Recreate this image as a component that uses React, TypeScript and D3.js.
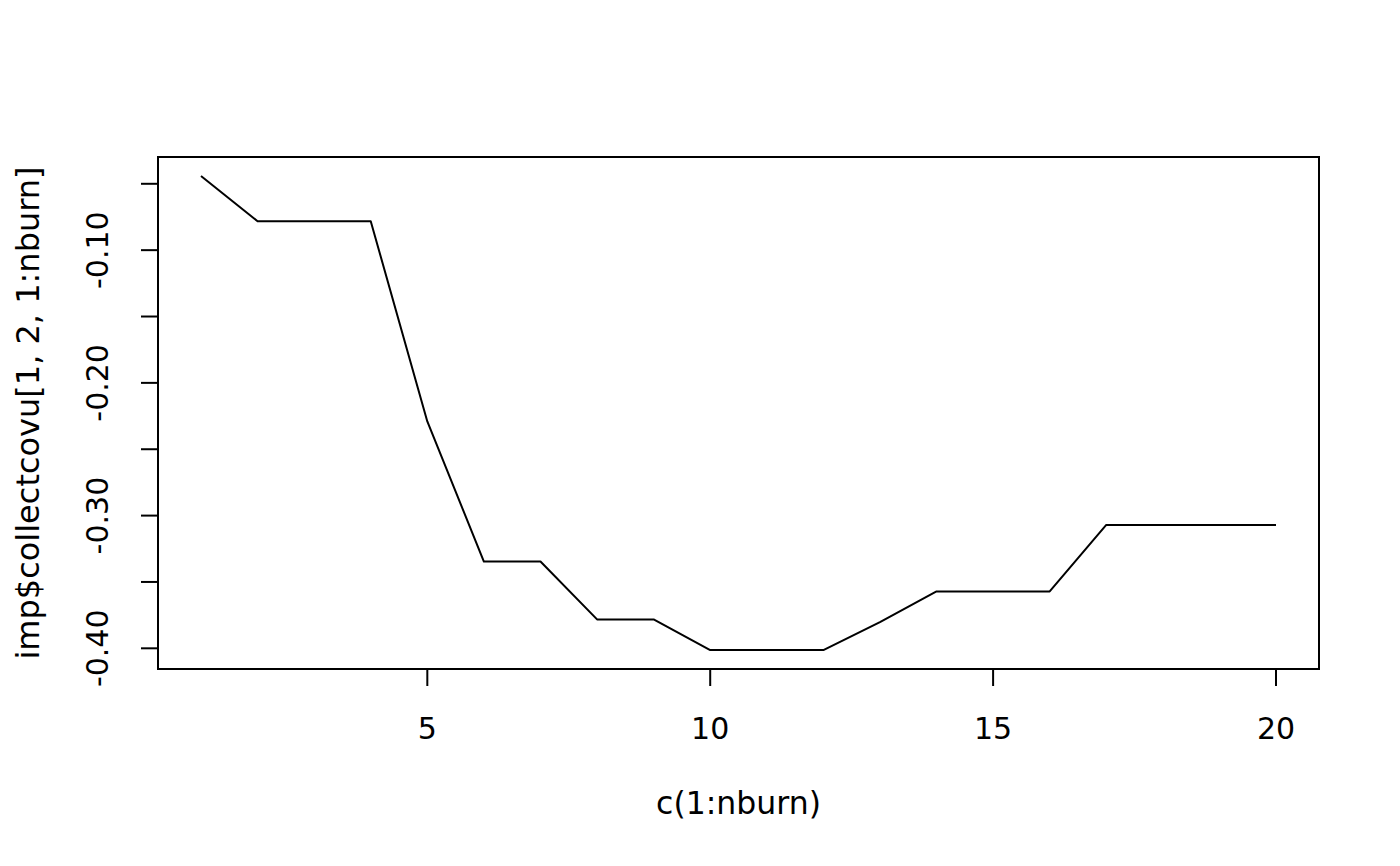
import * as d3 from 'd3';

// values
const iterations = [1, 2, 3, 4, 5, 6, 7, 8, 9, 10, 11, 12, 13, 14, 15, 16, 17, 18, 19, 20];
const covValues = [
  -0.0441, -0.0782, -0.0782, -0.0782, -0.2291, -0.3346, -0.3346, -0.3782, -0.3782, -0.4013,
  -0.4013, -0.4013, -0.3802, -0.3571, -0.3571, -0.3571, -0.307, -0.307, -0.307, -0.307,
];
const xTicks = [5, 10, 15, 20];
const yTicks = [-0.05, -0.1, -0.15, -0.2, -0.25, -0.3, -0.35, -0.4];
const yLabelled = [-0.1, -0.2, -0.3, -0.4];

const width = 1400;
const height = 866;
const font = 'DejaVu Sans, sans-serif';
const fontSize = 30;

// R prints a plain hyphen, not the unicode minus d3 uses
const fmt = (v: number) => d3.format('.2f')(v).replace('\u2212', '-');

export default function App() {
  const margin = { top: 157, right: 81, bottom: 197, left: 158 };
  const innerW = width - margin.left - margin.right;
  const innerH = height - margin.top - margin.bottom;

  // R-style 4% padding on both axes
  const xExt = d3.extent(iterations) as [number, number];
  const xPad = (xExt[1] - xExt[0]) * 0.04;
  const xScale = d3.scaleLinear().domain([xExt[0] - xPad, xExt[1] + xPad]).range([0, innerW]);

  const yExt = d3.extent(covValues) as [number, number];
  const yPad = (yExt[1] - yExt[0]) * 0.04;
  const yScale = d3.scaleLinear().domain([yExt[0] - yPad, yExt[1] + yPad]).range([innerH, 0]);

  const line = d3.line<number>()
    .x((_, i) => xScale(iterations[i]))
    .y(d => yScale(d));

  const tickLen = 17;

  return (
    <svg
      width={width}
      height={height}
      style={{ position: 'absolute', left: 0, top: 0, background: '#fff' }}
      fontFamily={font}
    >
      <g transform={`translate(${margin.left},${margin.top})`}>
        <rect x={0} y={0} width={innerW} height={innerH} fill="none" stroke="#000" strokeWidth={2} />
        <path d={line(covValues) ?? ''} fill="none" stroke="#000" strokeWidth={2} strokeLinejoin="round" />

        {/* x axis */}
        <line x1={xScale(xTicks[0])} x2={xScale(xTicks[xTicks.length - 1])} y1={innerH} y2={innerH} stroke="#000" strokeWidth={2} />
        {xTicks.map(t => (
          <g key={t} transform={`translate(${xScale(t)},${innerH})`}>
            <line y1={0} y2={tickLen} stroke="#000" strokeWidth={2} />
            <text y={70} textAnchor="middle" fontSize={fontSize} fill="#000">{t}</text>
          </g>
        ))}

        {/* y axis */}
        <line x1={0} x2={0} y1={yScale(yTicks[0])} y2={yScale(yTicks[yTicks.length - 1])} stroke="#000" strokeWidth={2} />
        {yTicks.map(t => (
          <g key={t} transform={`translate(0,${yScale(t)})`}>
            <line x1={0} x2={-tickLen} stroke="#000" strokeWidth={2} />
            {yLabelled.some(v => Math.abs(v - t) < 1e-9) && (
              <text transform={`translate(-50,0) rotate(-90)`} textAnchor="middle" fontSize={fontSize} fill="#000">
                {fmt(t)}
              </text>
            )}
          </g>
        ))}
      </g>

      <text x={margin.left + innerW / 2} y={814} textAnchor="middle" fontSize={31.5} fill="#000">
        c(1:nburn)
      </text>
      <text
        transform={`translate(39,${margin.top + innerH / 2}) rotate(-90)`}
        textAnchor="middle"
        fontSize={32}
        fill="#000"
      >
        imp$collectcovu[1, 2, 1:nburn]
      </text>
    </svg>
  );
}
